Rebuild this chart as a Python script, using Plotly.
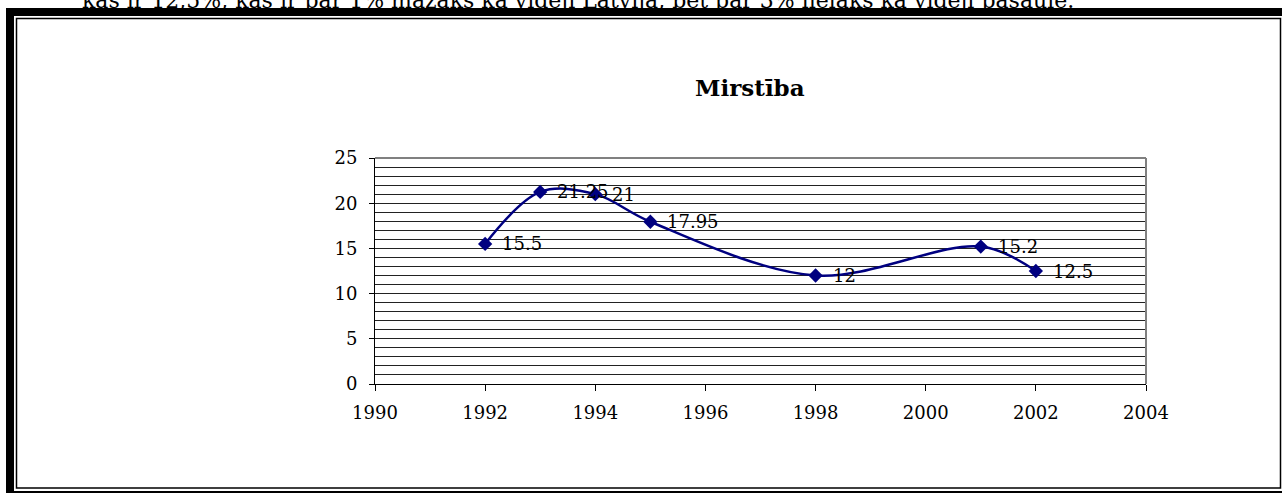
import plotly.graph_objects as go

years = [1992, 1993, 1994, 1995, 1998, 2001, 2002]
values = [15.5, 21.25, 21, 17.95, 12, 15.2, 12.5]
labels = ["15.5", "21.25", "21", "17.95", "12", "15.2", "12.5"]
x_ticks = [1990, 1992, 1994, 1996, 1998, 2000, 2002, 2004]
y_ticks = [0, 5, 10, 15, 20, 25]
title_text = "Mirstība"
top_text = "kas ir 12,5%, kas ir par 1% mazāks kā vidēji Latvijā, bet par 3% lielāks kā vidēji pasaulē."

W, H = 1282, 493
L, R, T, B = 375, 1146, 158, 384
FONT = "DejaVu Serif"


def px(x):
    return (x - L) / (R - L)


def py(y):
    return (B - y) / (B - T)


fig = go.Figure()
fig.add_trace(go.Scatter(
    x=years, y=values, mode="lines+markers",
    line=dict(color="#000080", width=2.5, shape="spline", smoothing=1),
    marker=dict(symbol="diamond", size=11, color="#000080"),
    hoverinfo="skip", showlegend=False,
))

annotations = []
for xv, yv, t in zip(years, values, labels):
    annotations.append(dict(x=xv, y=yv, xref="x", yref="y", text=t, showarrow=False,
                            xanchor="left", yanchor="middle", xshift=15,
                            font=dict(family=FONT, size=18, color="black")))
annotations.append(dict(x=px(750), y=py(88), xref="paper", yref="paper", text="<b>" + title_text + "</b>",
                        showarrow=False, xanchor="center", yanchor="middle",
                        font=dict(family=FONT, size=23, color="black")))
annotations.append(dict(x=px(80), y=py(0), xref="paper", yref="paper", text=top_text,
                        showarrow=False, xanchor="left", yanchor="middle",
                        font=dict(family=FONT, size=22, color="black")))

shapes = [
    # outer thick border
    dict(type="rect", xref="paper", yref="paper", x0=px(10), x1=px(1287), y0=py(12), y1=py(495),
         line=dict(color="black", width=8), layer="above"),
    # inner thin border
    dict(type="rect", xref="paper", yref="paper", x0=px(16.5), x1=px(1280.5), y0=py(18.5), y1=py(488),
         line=dict(color="black", width=1.5), layer="above"),
    # plot frame (gray top/right)
    dict(type="line", xref="paper", yref="paper", x0=0, x1=1, y0=1, y1=1,
         line=dict(color="#808080", width=2), layer="above"),
    dict(type="line", xref="paper", yref="paper", x0=1, x1=1, y0=0, y1=1,
         line=dict(color="#808080", width=2), layer="above"),
]

fig.update_layout(
    width=W, height=H,
    margin=dict(l=L, r=W - R, t=T, b=H - B),
    paper_bgcolor="white", plot_bgcolor="white",
    font=dict(family=FONT, size=18, color="black"),
    annotations=annotations, shapes=shapes,
    xaxis=dict(range=[1990, 2004], tickvals=x_ticks, showgrid=False, zeroline=False,
               showline=True, linecolor="black", linewidth=1, ticks="outside", ticklen=6,
               tickcolor="black", tickfont=dict(family=FONT, size=18), ticklabelstandoff=6),
    yaxis=dict(range=[0, 25], tickvals=y_ticks, showgrid=True, gridcolor="#222222", gridwidth=1,
               zeroline=False, showline=True, linecolor="black", linewidth=1, ticks="outside",
               ticklen=5, tickcolor="black", tickfont=dict(family=FONT, size=18),
               ticklabelstandoff=8,
               minor=dict(dtick=1, showgrid=True, gridcolor="#222222", gridwidth=1)),
)

fig.write_html("out.html", config={"displayModeBar": False},
               post_script="document.body.style.margin='0px';document.body.style.overflow='hidden';")
